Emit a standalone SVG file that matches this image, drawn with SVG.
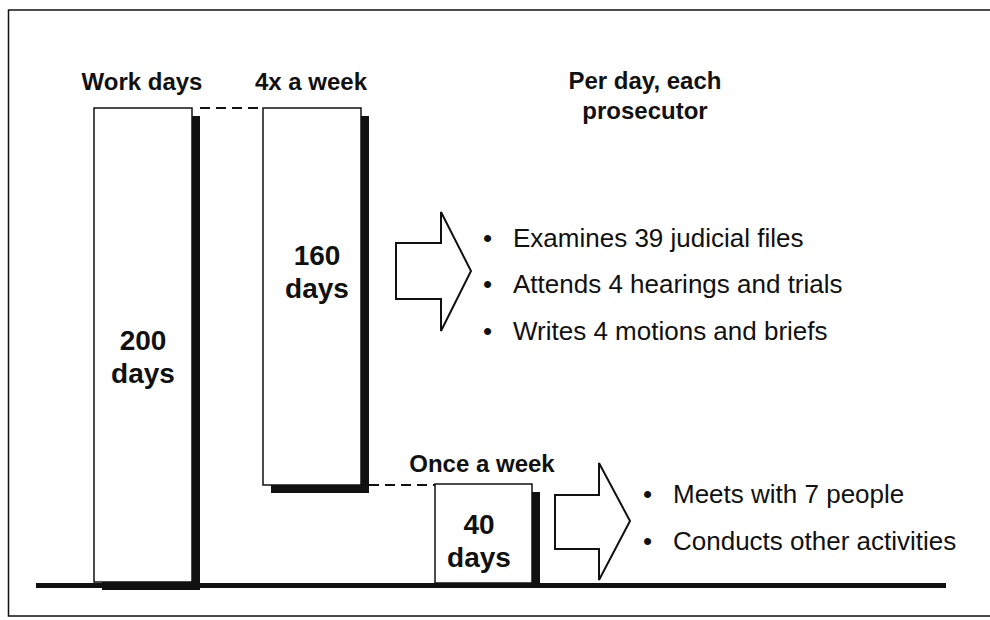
<svg xmlns="http://www.w3.org/2000/svg" width="990" height="620" viewBox="0 0 990 620">
<style>
.hdr{font-family:"Liberation Sans",Arial,sans-serif;font-weight:bold;font-size:24px;fill:#111;text-anchor:middle}
.num{font-family:"Liberation Sans",Arial,sans-serif;font-weight:bold;font-size:28px;fill:#111;text-anchor:middle}
.bul{font-family:"Liberation Sans",Arial,sans-serif;font-size:26px;fill:#111}
.box{fill:#fff;stroke:#111;stroke-width:1.5}
.shadow{fill:#111}
.arrow{fill:#fff;stroke:#111;stroke-width:2;stroke-linejoin:miter}
.dash{stroke:#111;stroke-width:2;stroke-dasharray:10 6;fill:none}
</style>
<rect width="990" height="620" fill="#fff"/>
<path d="M990,10 H8.5 V616 H990" fill="none" stroke="#111" stroke-width="1.5"/>

<text class="hdr" x="142" y="90">Work days</text>
<text class="hdr" x="311" y="90">4x a week</text>
<text class="hdr" x="645" y="89">Per day, each</text>
<text class="hdr" x="645" y="119">prosecutor</text>

<g id="connectors">
<line class="dash" x1="200" y1="108" x2="263" y2="108"/>
<line class="dash" x1="369" y1="485" x2="435" y2="485"/>
</g>

<g id="bar-200">
<rect class="shadow" x="102" y="116" width="98" height="474"/>
<rect class="box" x="94" y="108" width="98" height="474"/>
<text class="num" x="143" y="350">200</text>
<text class="num" x="143" y="383">days</text>
</g>

<g id="bar-160">
<rect class="shadow" x="271" y="116" width="98" height="377"/>
<rect class="box" x="263" y="108" width="98" height="377"/>
<text class="num" x="317" y="265">160</text>
<text class="num" x="317" y="298">days</text>
</g>

<g id="bar-40">
<rect class="shadow" x="443" y="492" width="97" height="96"/>
<rect class="box" x="435" y="484" width="97" height="99"/>
<text class="hdr" x="482" y="472">Once a week</text>
<text class="num" x="479" y="534">40</text>
<text class="num" x="479" y="567">days</text>
</g>

<g id="baseline">
<rect x="36" y="583" width="910" height="5" fill="#111"/>
</g>

<g id="arrow-1">
<polygon class="arrow" points="396,243 441,243 441,212 471,271 441,331 441,299 396,299"/>
</g>

<g id="arrow-2">
<polygon class="arrow" points="555,495 599,495 599,463 630,521 599,580 599,549 555,549"/>
</g>

<g id="list-1">
<text class="bul" x="483" y="247">•</text>
<text class="bul" x="513" y="247">Examines 39 judicial files</text>
<text class="bul" x="483" y="293">•</text>
<text class="bul" x="513" y="293">Attends 4 hearings and trials</text>
<text class="bul" x="483" y="340">•</text>
<text class="bul" x="513" y="340">Writes 4 motions and briefs</text>
</g>

<g id="list-2">
<text class="bul" x="643" y="503">•</text>
<text class="bul" x="673" y="503">Meets with 7 people</text>
<text class="bul" x="643" y="550">•</text>
<text class="bul" x="673" y="550">Conducts other activities</text>
</g>
</svg>
